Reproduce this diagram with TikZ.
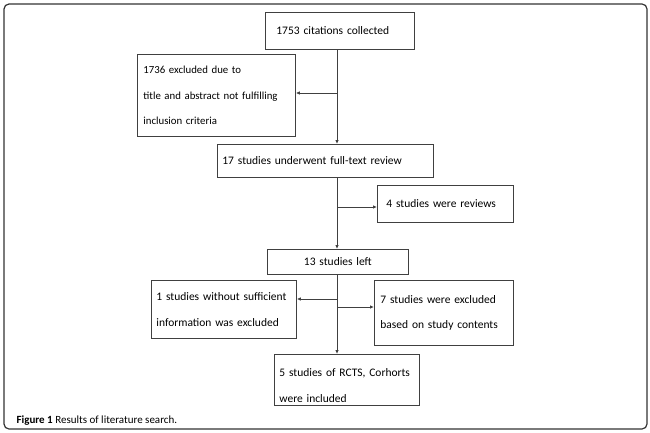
\documentclass[tikz,border=0pt]{standalone}
\usepackage{fontspec}
\setmainfont{Carlito}
\usetikzlibrary{arrows.meta}

\begin{document}
\begin{tikzpicture}[x=1pt,y=-1pt,
  box/.style={draw=black!75,line width=0.8pt,anchor=north west,align=left,inner ysep=0pt,font=\fontsize{11.5}{25.5}\selectfont},
  link/.style={draw=black!75,line width=0.8pt,-{Latex[length=4pt,width=3.5pt]}}]
  \useasboundingbox (0,0) rectangle (650,433);
  \draw[black!80,line width=1.2pt,rounded corners=5pt] (4,4) rectangle (647,429);
  \node[box,minimum width=149pt,minimum height=37pt,text width=127pt,inner xsep=11pt] (cit) at (265,12) {1753 citations collected};
  \node[box,minimum width=158pt,minimum height=82pt,text width=146pt,inner xsep=6pt,font=\fontsize{10.8}{25.5}\selectfont] (excl) at (137,54) {1736 excluded due to\\title and abstract not fulfilling\\inclusion criteria};
  \node[box,minimum width=216pt,minimum height=33pt,text width=206pt,inner xsep=5pt] (full) at (217,144) {17 studies underwent full-text review};
  \node[box,minimum width=136pt,minimum height=37pt,text width=118pt,inner xsep=9pt] (rev) at (377,185) {4 studies were reviews};
  \node[box,minimum width=141pt,minimum height=25pt,text width=135pt,inner xsep=3pt,align=center] (left) at (267,249) {13 studies left};
  \node[box,minimum width=145pt,minimum height=58pt,text width=135pt,inner xsep=5pt] (insuff) at (151,280) {1 studies without sufficient\\information was excluded};
  \node[box,minimum width=139pt,minimum height=65pt,text width=127pt,inner xsep=6pt] (cont) at (374,280) {7 studies were excluded\\based on study contents};
  \node[box,minimum width=145pt,text width=135pt,inner xsep=5pt,inner ysep=3pt] (incl) at (274,354) {\rule{0pt}{19.5pt}5 studies of RCTS, Corhorts\\were included};
  \node[anchor=base west,font=\fontsize{11}{13}\selectfont] (cap) at (13,423) {\textbf{Figure 1} Results of literature search.};
  \coordinate (j1) at (337,93);
  \coordinate (j2) at (337,207);
  \coordinate (j3) at (337,299);
  \coordinate (j4) at (337,307);
  \draw[link] (cit.south -| j1) -- (full.north -| j1);
  \draw[link] (j1) -- (excl.east |- j1);
  \draw[link] (full.south -| j2) -- (left.north -| j2);
  \draw[link] (j2) -- (rev.west |- j2);
  \draw[link] (left.south -| j3) -- (incl.north -| j3);
  \draw[link] (j3) -- (insuff.east |- j3);
  \draw[link] (j4) -- (cont.west |- j4);
\end{tikzpicture}
\end{document}
